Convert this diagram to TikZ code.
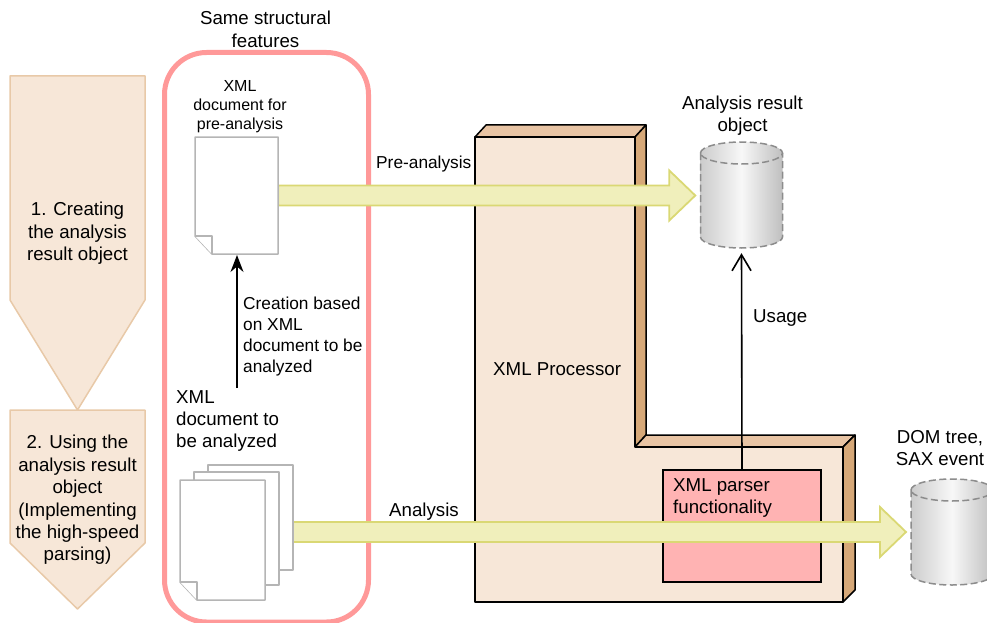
\documentclass[tikz,border=0pt]{standalone}
\usepackage{fontspec}
\setmainfont{Liberation Sans}
\usetikzlibrary{arrows.meta,calc}
\definecolor{peach}{HTML}{F7E7D8}
\definecolor{peachedge}{HTML}{E8C9A8}
\definecolor{blocktop}{HTML}{E8C4A4}
\definecolor{blockside}{HTML}{D6A878}
\definecolor{pinkline}{HTML}{FF9999}
\definecolor{pinkfill}{HTML}{FFB3B3}
\definecolor{arrowfill}{HTML}{F0EFBB}
\definecolor{arrowedge}{HTML}{DAD874}
\definecolor{docedge}{HTML}{B5B5B5}
\definecolor{cyledge}{HTML}{8C8C8C}
\tikzset{
  lab/.style={inner sep=0pt,align=center,font=\fontsize{18.7}{22.4}\selectfont},
  lableft/.style={lab,align=left,anchor=west},
  labsmall/.style={inner sep=0pt,font=\fontsize{17.3}{21}\selectfont},
  labtiny/.style={inner sep=0pt,align=center,font=\fontsize{16}{19}\selectfont},
  phase/.style={draw=peachedge,fill=peach,line width=1.5pt,line join=round},
  face/.style={draw=black,line width=1.5pt,line join=round},
  sheet/.style={draw=docedge,fill=white,line width=1.5pt,line join=round},
  spot/.style={inner sep=0pt,minimum width=#1,rectangle},
  bigarrow/.style={draw=arrowedge,fill=arrowfill,line width=1.8pt,line join=miter},
  thinarrow/.style={line width=1.7pt,-{Stealth[length=17pt,width=13pt]}},
  openarrow/.style={line width=1.6pt,-{Straight Barb[length=16pt,width=19pt,line width=1.6pt]}},
  cylline/.style={draw=cyledge,line width=1.5pt,dash pattern=on 7pt off 3.5pt},
}
\newcommand{\bigarr}[2]{%
  \draw[bigarrow] let \p1=(#1),\p2=(#2) in
    (\x1,\y1+10pt) -- (\x2-26pt,\y1+10pt) -- (\x2-26pt,\y1+25pt) -- (\x2,\y1)
    -- (\x2-26pt,\y1-25pt) -- (\x2-26pt,\y1-10pt) -- (\x1,\y1-10pt) -- cycle;}
\newcommand{\cylshape}[4]{% name, cx, top, bottom
  \node[inner sep=0pt,minimum width=82pt,minimum height=#4pt-#3pt] (#1) at (#2,{(#3+#4)/2}) {};
  \begin{scope}
    \path[left color=black!20,right color=black!25,middle color=black!3]
      (#2-41,#3+11) arc[start angle=180,end angle=0,x radius=41pt,y radius=11pt]
      -- (#2+41,#4-11) arc[start angle=360,end angle=180,x radius=41pt,y radius=11pt] -- cycle;
    \draw[cylline]
      (#2-41,#3+11) arc[start angle=180,end angle=-180,x radius=41pt,y radius=11pt];
    \draw[cylline]
      (#2-41,#3+11) -- (#2-41,#4-11) arc[start angle=180,end angle=360,x radius=41pt,y radius=11pt]
      -- (#2+41,#3+11);
  \end{scope}}
\begin{document}
\begin{tikzpicture}[x=1pt,y=-1pt]
\useasboundingbox (0,0) rectangle (987,623);
\clip (0,0) rectangle (987,623);
% phase arrows
\draw[phase] (10,76) -- (145,76) -- (145,300) -- (77.5,410) -- (10,300) -- cycle;
\draw[phase] (10,410) -- (145,410) -- (145,543) -- (77.5,609) -- (10,543) -- cycle;
\node[lab] (phaseone) at (77.5,233.5) {1. Creating\\the analysis\\result object};
\node[lab] (phasetwo) at (77.5,500) {2. Using the\\analysis result\\object\\(Implementing\\the high-speed\\parsing)};
% same structural features frame
\draw[draw=pinkline,line width=5pt,rounded corners=42pt] (164.5,52.5) rectangle (368.5,622);
\node[lab] (same) at (265.5,29.5) {Same structural\\features};
% processor block
\draw[face,fill=blocktop] (475,137) -- (486,125) -- (646,125) -- (635,137) -- cycle;
\draw[face,fill=blockside] (635,137) -- (646,125) -- (646,435) -- (635,447) -- cycle;
\draw[face,fill=blocktop] (635,447) -- (646,435) -- (855,435) -- (843,447) -- cycle;
\draw[face,fill=blockside] (843,447) -- (855,435) -- (855,590) -- (843,602) -- cycle;
\draw[face,fill=peach] (475,137) -- (635,137) -- (635,447) -- (843,447) -- (843,602) -- (475,602) -- cycle;
\node[lableft] (proc) at (493,369) {XML Processor};
\node[draw=black,fill=pinkfill,line width=1.5pt,inner sep=0pt,minimum width=158pt,minimum height=112pt] (parser) at (742,526) {};
\node[lableft] (parsertext) at (673,498) {XML parser\\functionality};
% cylinders
\cylshape{resultobj}{741.5}{142}{248}
\cylshape{domsax}{952}{479}{585}
\node[lab] (resultlab) at (742.5,115.5) {Analysis result\\object};
\node[lab] (domlab) at (940,448) {DOM tree,\\SAX event};
% connectors
\coordinate (usagetip) at ($(resultobj.south)+(0,5)$);
\draw[openarrow] (parser.north) -- (usagetip);
\node[lableft] (usagelab) at (753,318) {Usage};
% documents (positions)
\node[spot=83pt,minimum height=117pt] (predoc) at (236.5,195.5) {};
\node[spot=85pt,minimum height=105pt] (stackback) at (250.5,517.5) {};
\node[spot=85pt,minimum height=113pt] (stackmid) at (236.5,528.5) {};
\node[spot=85pt,minimum height=120pt] (stackfront) at (222.5,540) {};
% block arrows
\coordinate (pretip) at ($(resultobj.west)+(-5,0.5)$);
\coordinate (anastart) at (293,532);
\coordinate (anatip) at (906,532);
\bigarr{predoc.east}{pretip}
\bigarr{anastart}{anatip}
% document sheets
\draw[sheet] (195,137) -- (278,137) -- (278,254) -- (212,254) -- (195,236) -- cycle;
\draw[sheet] (195,236) -- (212,236) -- (212,254);
\draw[sheet] (stackback.south west) rectangle (stackback.north east);
\draw[sheet] (stackmid.south west) rectangle (stackmid.north east);
\draw[sheet] (180,480) -- (265,480) -- (265,600) -- (197,600) -- (180,582) -- cycle;
\draw[sheet] (180,582) -- (197,582) -- (197,600);
\node[labtiny] (predoclab) at (240,107) {XML\\document for\\pre-analysis};
\node[lableft] (stacklab) at (176,421) {XML\\document to\\be analyzed};
% creation arrow
\coordinate (createstart) at (237,388);
\coordinate (createend) at (237,255);
\draw[thinarrow] (createstart) -- (createend);
\node[labsmall,align=left,anchor=west] (createlab) at (243,337) {Creation based\\on XML\\document to be\\analyzed};
\node[labsmall,anchor=west] (prelab) at (376,164) {Pre-analysis};
\node[lableft] (analab) at (389,512) {Analysis};
\end{tikzpicture}
\end{document}
